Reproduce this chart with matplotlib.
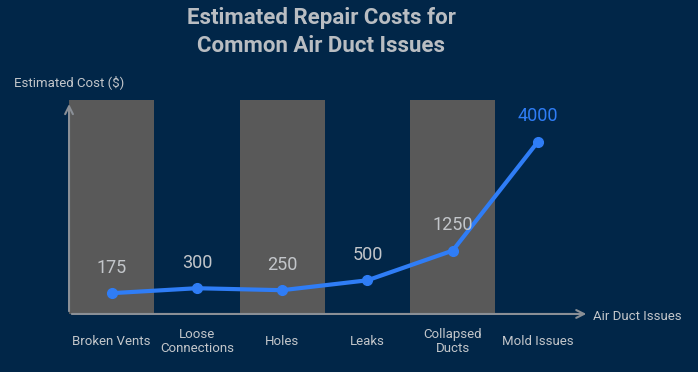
import matplotlib.pyplot as plt
import numpy as np

plt.rcParams['font.family'] = ['Roboto', 'DejaVu Sans']

categories = ["Broken Vents", "Loose\nConnections", "Holes", "Leaks", "Collapsed\nDucts", "Mold Issues"]
costs = [175, 300, 250, 500, 1250, 4000]

bg = '#012648'
band = '#595959'
blue = '#2f7df6'
grey_txt = '#c3c6ca'
axis_col = '#8a8f96'

fig = plt.figure(figsize=(6.98, 3.72), dpi=100, facecolor=bg)
ax = fig.add_axes([0.0989, 0.156, 0.739, 0.575])
ax.set_facecolor(bg)

x = np.arange(len(categories))
ylo, yhi = -350, 5050

# alternating grey columns
for i in x[::2]:
    ax.bar(i, yhi - ylo, bottom=ylo, width=1.0, color=band, zorder=1)

ax.plot(x, costs, color=blue, lw=3, marker='o', ms=7, zorder=3)

for i, v in zip(x, costs):
    col = blue if i == len(costs) - 1 else grey_txt
    ax.annotate(str(v), (i, v), xytext=(0, 12), textcoords='offset points',
                ha='center', va='bottom', fontsize=13, color=col, zorder=4)

ax.set_xlim(-0.5, 5.55)
ax.set_ylim(ylo, yhi)
for s in ax.spines.values():
    s.set_visible(False)
ax.set_yticks([])
ax.set_xticks(x)
ax.set_xticklabels(categories, fontsize=9.5, color=grey_txt, linespacing=1.05,
                   va='center')
ax.tick_params(axis='x', length=0, pad=20)

# axes with arrow heads
ax.annotate('', xy=(5.6, ylo), xytext=(-0.5, ylo), xycoords='data',
            arrowprops=dict(arrowstyle='->', color=axis_col, lw=1.5, mutation_scale=14),
            annotation_clip=False, zorder=5)
ax.annotate('', xy=(-0.5, yhi - 30), xytext=(-0.5, ylo), xycoords='data',
            arrowprops=dict(arrowstyle='->', color=axis_col, lw=1.5, mutation_scale=14),
            annotation_clip=False, zorder=5)

fig.text(593 / 698, 1 - 316 / 372, 'Air Duct Issues', fontsize=9.5, color=grey_txt,
         ha='left', va='center')
fig.text(14 / 698, 1 - 82 / 372, 'Estimated Cost ($)', fontsize=9.5, color=grey_txt,
         ha='left', va='center')

fig.text(0.46, 1 - 32 / 372, 'Estimated Repair Costs for\nCommon Air Duct Issues',
         fontsize=16, fontweight='bold', color='#b9bdc2', ha='center', va='center',
         linespacing=1.35)

fig.savefig('out.png', dpi=100, facecolor=bg)
